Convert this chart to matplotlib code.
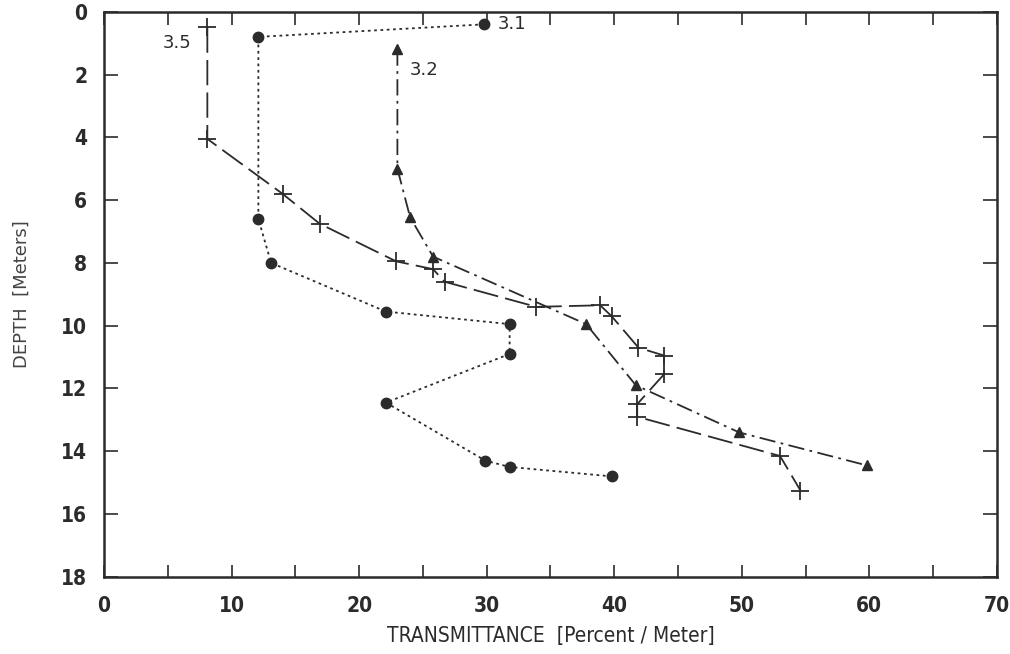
import matplotlib
matplotlib.use("Agg")
import matplotlib.pyplot as plt

plt.rcParams["font.family"] = ["DejaVu Sans"]
plt.rcParams["font.stretch"] = "condensed"

# series 3.1 (dots, dotted line)
x31 = [29.8, 12.1, 12.1, 13.1, 22.1, 31.8, 31.8, 22.1, 29.9, 31.8, 39.8]
d31 = [0.4, 0.8, 6.6, 8.0, 9.55, 9.95, 10.9, 12.45, 14.3, 14.5, 14.8]

# series 3.2 (triangles, dash-dot)
x32 = [23.0, 23.0, 24.0, 25.8, 37.8, 41.7, 49.8, 59.8]
d32 = [1.2, 5.0, 6.55, 7.8, 9.95, 11.9, 13.4, 14.45]

# series 3.5 (crosses, long dash)
x35 = [8.1, 8.1, 14.0, 16.9, 22.9, 25.8, 26.7, 33.9, 38.9, 39.8, 41.9, 43.9,
       43.9, 41.8, 41.8, 53.0, 54.6]
d35 = [0.5, 4.05, 5.8, 6.75, 7.95, 8.2, 8.6, 9.4, 9.35, 9.7, 10.7, 10.95,
       11.55, 12.5, 12.9, 14.15, 15.25]

labels = ["3.1", "3.2", "3.5"]
xticks = list(range(0, 71, 10))
yticks = list(range(0, 19, 2))

ink = "#2b2b2b"

fig = plt.figure(figsize=(10.1, 6.54), dpi=100)
ax = fig.add_axes([0.103, 0.118, 0.884, 0.864])

ax.plot(x31, d31, color=ink, lw=1.3, ls=(0, (1.5, 2)), marker="o", ms=7.5)
ax.plot(x32, d32, color=ink, lw=1.3, ls=(0, (9, 3, 1.5, 3)), marker="^", ms=6.5)
ax.plot(x35, d35, color=ink, lw=1.3, ls=(0, (14, 4)), marker="+", ms=13, mew=1.3)

ax.text(30.9, 0.4, labels[0], fontsize=13, color=ink, va="center", stretch="normal")
ax.text(24.0, 1.85, labels[1], fontsize=13, color=ink, va="center", stretch="normal")
ax.text(4.6, 1.0, labels[2], fontsize=13, color=ink, va="center", stretch="normal")

ax.set_xlim(0, 70)
ax.set_ylim(18, 0)
ax.set_xticks(xticks)
ax.set_xticks(range(0, 71, 5), minor=True)
ax.set_yticks(yticks)
ax.tick_params(axis="x", which="both", direction="in", top=True, length=9, width=1.2,
               colors=ink, labelsize=15, pad=14)
ax.tick_params(axis="y", direction="in", right=True, length=10, width=1.2,
               colors=ink, labelsize=15, pad=12)
for lab in ax.get_xticklabels() + ax.get_yticklabels():
    lab.set_fontweight("bold")
for s in ax.spines.values():
    s.set_linewidth(1.8)
    s.set_color(ink)

ax.set_xlabel("TRANSMITTANCE  [Percent / Meter]", fontsize=15, color=ink, labelpad=7)
ax.set_ylabel("DEPTH  [Meters]", fontsize=13, color="#444444", labelpad=22,
              stretch="normal")

fig.savefig("out.png", dpi=100, facecolor="white")
